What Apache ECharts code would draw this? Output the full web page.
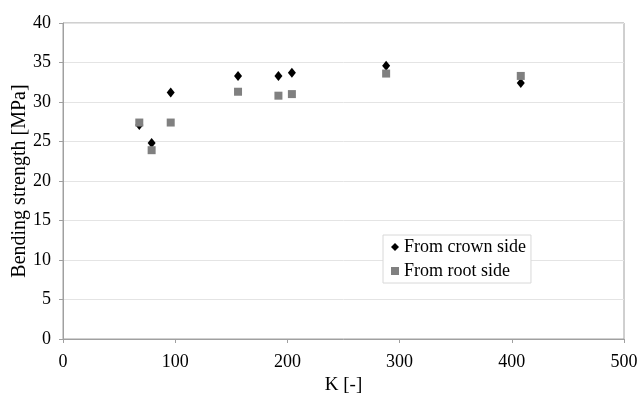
<!DOCTYPE html>
<html>
<head>
<meta charset="utf-8">
<script src="https://cdn.jsdelivr.net/npm/echarts@6/dist/echarts.min.js"></script>
<style>
html, body { margin: 0; padding: 0; background: #fff; }
#chart { width: 637px; height: 401px; }
</style>
</head>
<body>
<div id="chart"></div>
<script>
var myChart = echarts.init(document.getElementById('chart'));

var crownSide = [
    [68, 27.1], [79, 24.8], [96, 31.2], [156, 33.3],
    [192, 33.3], [204, 33.7], [288, 34.6], [408, 32.4]
];
var rootSide = [
    [68, 27.4], [79, 23.9], [96, 27.4], [156, 31.3],
    [192, 30.8], [204, 31.0], [288, 33.6], [408, 33.3]
];

var serif = '"Liberation Serif", "DejaVu Serif", serif';

option = {
    backgroundColor: '#fff',
    textStyle: { fontFamily: serif },
    grid: {
        left: 63,
        right: 13,
        top: 23,
        bottom: 62,
        outerBoundsMode: 'none',
        containLabel: false,
        show: true,
        borderColor: '#a0a0a0',
        borderWidth: 1
    },
    legend: {
        orient: 'vertical',
        left: 383,
        top: 235,
        padding: [3, 5, 3, 8],
        itemGap: 6,
        itemWidth: 8,
        itemHeight: 8,
        backgroundColor: '#fff',
        borderColor: '#d8d8d8',
        borderWidth: 1,
        textStyle: { fontFamily: serif, fontSize: 18, color: '#000' },
        data: [
            { name: 'From crown side', icon: 'diamond' },
            { name: 'From root side', icon: 'rect' }
        ]
    },
    xAxis: {
        type: 'value',
        min: 0,
        max: 500,
        interval: 100,
        name: 'K [-]',
        nameLocation: 'middle',
        nameGap: 37,
        nameMoveOverlap: false,
        nameTextStyle: { fontFamily: serif, fontSize: 19, color: '#000' },
        axisLine: { lineStyle: { color: '#a0a0a0' } },
        axisTick: { show: true, length: 4, lineStyle: { color: '#a0a0a0' } },
        splitLine: { show: false },
        axisLabel: { fontFamily: serif, fontSize: 18, color: '#000', margin: 14 }
    },
    yAxis: {
        type: 'value',
        min: 0,
        max: 40,
        interval: 5,
        name: 'Bending strength [MPa]',
        nameLocation: 'middle',
        nameGap: 33,
        nameMoveOverlap: false,
        nameTextStyle: { fontFamily: serif, fontSize: 20, color: '#000' },
        axisLine: { show: true, lineStyle: { color: '#a0a0a0' } },
        axisTick: { show: true, length: 4, lineStyle: { color: '#a0a0a0' } },
        splitLine: { lineStyle: { color: '#e4e4e4' } },
        axisLabel: { fontFamily: serif, fontSize: 18, color: '#000', margin: 12 }
    },
    series: [
        {
            name: 'From crown side',
            type: 'scatter',
            symbol: 'diamond',
            symbolSize: [8, 10],
            data: crownSide,
            itemStyle: { color: '#000', opacity: 1 }
        },
        {
            name: 'From root side',
            type: 'scatter',
            symbol: 'rect',
            symbolSize: 8,
            data: rootSide,
            itemStyle: { color: '#808080', opacity: 1 }
        }
    ]
};
myChart.setOption(option);
</script>
</body>
</html>
